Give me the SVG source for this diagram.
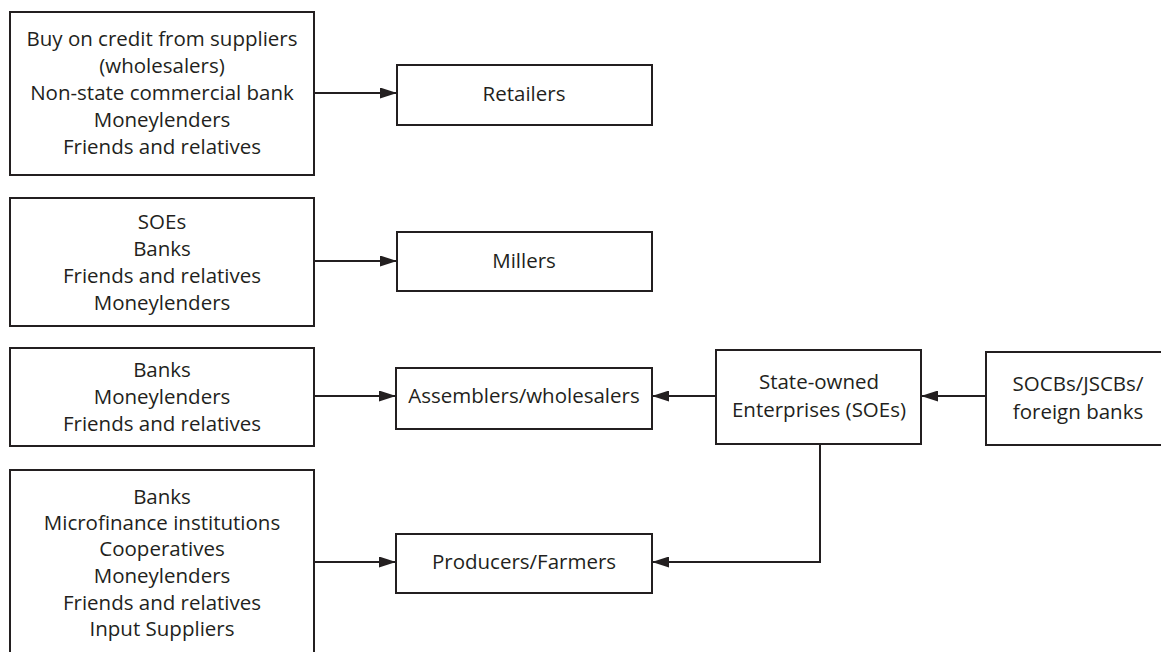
<svg xmlns="http://www.w3.org/2000/svg" width="1161" height="652" viewBox="0 0 1161 652">
  <style>
    .box { fill: #ffffff; stroke: #231f20; stroke-width: 2; }
    .lbl { font-family: "Open Sans", "Liberation Sans", sans-serif; font-size: 20.5px; fill: #231f20; text-anchor: middle; }
    .wire { fill: none; stroke: #231f20; stroke-width: 2; }
  </style>
  <defs>
    <marker id="head" viewBox="0 0 17 11" refX="17" refY="5.5" markerWidth="17" markerHeight="11" markerUnits="userSpaceOnUse" orient="auto">
      <path d="M0,0 L17,5.5 L0,11 Z" fill="#231f20"/>
    </marker>
  </defs>
  <rect x="0" y="0" width="1161" height="652" fill="#ffffff"/>

  <!-- credit sources for retailers -->
  <g id="src-retailers">
    <rect class="box" x="10" y="12" width="304" height="163"/>
    <text class="lbl" x="162" y="46">Buy on credit from suppliers</text>
    <text class="lbl" x="162" y="73">(wholesalers)</text>
    <text class="lbl" x="162" y="100">Non-state commercial bank</text>
    <text class="lbl" x="162" y="127">Moneylenders</text>
    <text class="lbl" x="162" y="154">Friends and relatives</text>
  </g>
  <g id="retailers">
    <rect class="box" x="397" y="65" width="255" height="60"/>
    <text class="lbl" x="524" y="101">Retailers</text>
  </g>

  <!-- credit sources for millers -->
  <g id="src-millers">
    <rect class="box" x="10" y="198" width="304" height="128"/>
    <text class="lbl" x="162" y="229">SOEs</text>
    <text class="lbl" x="162" y="256">Banks</text>
    <text class="lbl" x="162" y="283">Friends and relatives</text>
    <text class="lbl" x="162" y="310">Moneylenders</text>
  </g>
  <g id="millers">
    <rect class="box" x="397" y="232" width="255" height="59"/>
    <text class="lbl" x="524" y="268">Millers</text>
  </g>

  <!-- credit sources for assemblers -->
  <g id="src-assemblers">
    <rect class="box" x="10" y="348" width="304" height="98"/>
    <text class="lbl" x="162" y="377">Banks</text>
    <text class="lbl" x="162" y="404">Moneylenders</text>
    <text class="lbl" x="162" y="431">Friends and relatives</text>
  </g>
  <g id="assemblers">
    <rect class="box" x="396" y="368" width="256" height="61"/>
    <text class="lbl" x="524" y="403">Assemblers/wholesalers</text>
  </g>

  <!-- credit sources for producers -->
  <g id="src-producers">
    <rect class="box" x="10" y="470" width="304" height="200"/>
    <text class="lbl" x="162" y="504">Banks</text>
    <text class="lbl" x="162" y="530">Microfinance institutions</text>
    <text class="lbl" x="162" y="556">Cooperatives</text>
    <text class="lbl" x="162" y="583">Moneylenders</text>
    <text class="lbl" x="162" y="610">Friends and relatives</text>
    <text class="lbl" x="162" y="636">Input Suppliers</text>
  </g>
  <g id="producers">
    <rect class="box" x="396" y="534" width="256" height="59"/>
    <text class="lbl" x="524" y="569">Producers/Farmers</text>
  </g>

  <!-- state-owned enterprises -->
  <g id="soe">
    <rect class="box" x="716" y="350" width="205" height="94"/>
    <text class="lbl" x="819" y="389">State-owned</text>
    <text class="lbl" x="819" y="417">Enterprises (SOEs)</text>
  </g>

  <!-- commercial banks -->
  <g id="banks">
    <rect class="box" x="986" y="352" width="200" height="93"/>
    <text class="lbl" x="1078" y="391">SOCBs/JSCBs/</text>
    <text class="lbl" x="1078" y="419">foreign banks</text>
  </g>

  <!-- credit flows -->
  <g id="connectors">
    <path class="wire" d="M314,93 H397" marker-end="url(#head)"/>
    <path class="wire" d="M314,261 H397" marker-end="url(#head)"/>
    <path class="wire" d="M314,396 H396" marker-end="url(#head)"/>
    <path class="wire" d="M314,562 H396" marker-end="url(#head)"/>
    <path class="wire" d="M716,396 H652" marker-end="url(#head)"/>
    <path class="wire" d="M986,396 H921" marker-end="url(#head)"/>
    <path class="wire" d="M820,444 V562 H652" marker-end="url(#head)"/>
  </g>
</svg>
